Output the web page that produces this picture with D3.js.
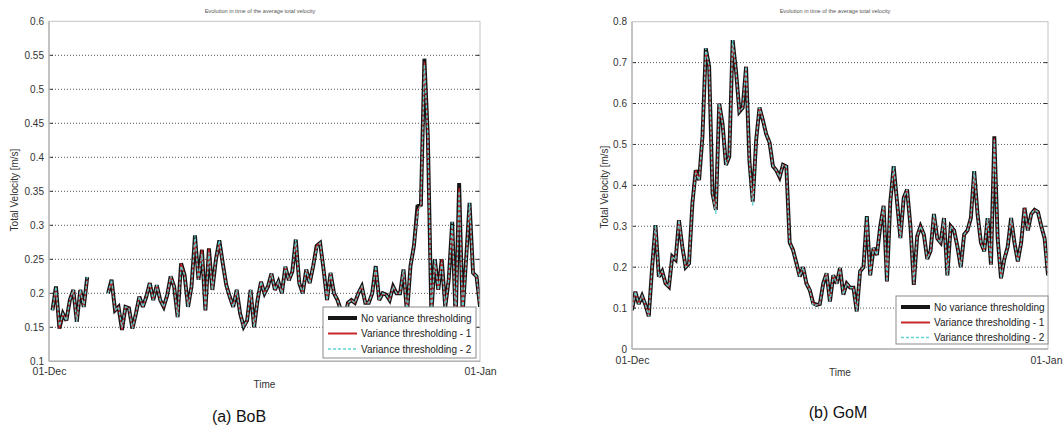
<!DOCTYPE html>
<html><head><meta charset="utf-8">
<script src="https://cdn.jsdelivr.net/npm/d3@7"></script>
<style>body{margin:0;background:#fff}svg{display:block}text{font-family:"Liberation Sans",Arial,Helvetica,sans-serif}</style>
</head><body><svg id="c" width="1063" height="434"></svg>
<script>
const startDate = new Date(2012, 11, 1);
const endDate = new Date(2013, 0, 1);
const stepHours = 6;
const seriesNames = ["No variance thresholding", "Variance thresholding - 1", "Variance thresholding - 2"];
const titleText = "Evolution in time of the average total velocity";
const yLabelText = "Total Velocity [m/s]";
const xLabelText = "Time";
const xTickLabels = ["01-Dec", "01-Jan"];
const captions = ["(a) BoB", "(b) GoM"];
const bobTicks = [0.1, 0.15, 0.2, 0.25, 0.3, 0.35, 0.4, 0.45, 0.5, 0.55, 0.6];
const gomTicks = [0, 0.1, 0.2, 0.3, 0.4, 0.5, 0.6, 0.7, 0.8];

const bobNoThresh = [null,0.175,0.21,0.148,0.17,0.16,0.19,0.205,0.158,0.205,0.18,0.224,
null,null,null,null,null,
0.2,0.22,0.175,0.18,0.146,0.18,0.178,0.148,0.17,0.195,
0.18,0.195,0.215,0.19,0.212,0.19,0.18,0.197,0.225,0.21,
0.165,0.244,0.227,0.18,0.21,0.285,0.22,0.264,0.175,0.266,
0.205,0.249,0.278,0.244,0.212,0.195,0.18,0.205,0.17,0.151,
0.16,0.205,0.15,0.19,0.217,0.2,0.21,0.229,0.205,0.217,
0.2,0.239,0.219,0.232,0.279,0.215,0.2,0.235,0.215,0.24,
0.27,0.274,0.235,0.19,0.23,0.2,0.19,0.175,0.16,0.186,
0.19,0.186,0.2,0.21,0.186,0.186,0.2,0.24,0.19,0.2,
0.198,0.19,0.21,0.2,0.2,0.235,0.17,0.24,0.27,0.328,
0.33,0.545,0.43,0.17,0.25,0.205,0.25,0.18,0.22,0.305,
0.16,0.362,0.17,0.25,0.333,0.23,0.225,0.18];

const bobThresh1 = [null,0.175,0.205,0.148,0.17,0.16,0.19,0.205,0.158,0.205,0.18,0.22,
null,null,null,null,null,
0.2,0.218,0.175,0.18,0.146,0.18,0.178,0.148,0.17,0.195,
0.18,0.195,0.215,0.19,0.212,0.19,0.18,0.197,0.225,0.21,
0.165,0.244,0.227,0.18,0.21,0.28,0.22,0.264,0.175,0.266,
0.205,0.249,0.272,0.244,0.212,0.195,0.18,0.205,0.17,0.151,
0.16,0.205,0.15,0.19,0.217,0.2,0.21,0.229,0.205,0.217,
0.2,0.239,0.219,0.232,0.275,0.215,0.2,0.235,0.215,0.24,
0.27,0.274,0.235,0.19,0.23,0.2,0.19,0.175,0.16,0.186,
0.19,0.186,0.2,0.21,0.186,0.186,0.2,0.236,0.19,0.2,
0.198,0.19,0.21,0.2,0.2,0.235,0.17,0.24,0.27,0.322,
0.33,0.54,0.43,0.17,0.25,0.205,0.25,0.18,0.22,0.3,
0.16,0.355,0.17,0.25,0.328,0.23,0.225,0.18];

const bobThresh2 = [null,0.175,0.21,0.152,0.17,0.16,0.19,0.205,0.158,0.205,0.18,0.224,
null,null,null,null,null,
0.2,0.22,0.175,0.18,0.15,0.18,0.178,0.148,0.17,0.195,
0.18,0.195,0.215,0.19,0.212,0.19,0.18,0.197,0.225,0.21,
0.165,0.24,0.227,0.18,0.21,0.285,0.22,0.258,0.175,0.26,
0.205,0.249,0.278,0.244,0.212,0.195,0.18,0.205,0.17,0.151,
0.16,0.205,0.15,0.19,0.217,0.2,0.21,0.229,0.205,0.217,
0.2,0.239,0.219,0.232,0.279,0.215,0.2,0.235,0.215,0.24,
0.266,0.274,0.235,0.19,0.23,0.2,0.19,0.175,0.16,0.186,
0.19,0.186,0.2,0.21,0.186,0.186,0.2,0.24,0.19,0.2,
0.198,0.19,0.21,0.2,0.2,0.235,0.17,0.24,0.27,0.318,
0.33,0.536,0.43,0.17,0.25,0.205,0.245,0.18,0.22,0.305,
0.16,0.35,0.17,0.245,0.333,0.23,0.225,0.18];

const gomNoThresh = [0.095,0.14,0.11,0.13,0.108,0.08,0.2,0.303,0.177,0.19,
0.16,0.152,0.226,0.218,0.315,0.25,0.2,0.209,0.356,0.437,
0.413,0.519,0.735,0.69,0.38,0.34,0.6,0.55,0.45,0.47,
0.755,0.68,0.58,0.59,0.69,0.46,0.36,0.51,0.59,0.56,
0.525,0.505,0.447,0.437,0.42,0.45,0.446,0.26,0.242,0.21,
0.177,0.2,0.16,0.144,0.112,0.108,0.11,0.16,0.185,0.116,
0.18,0.16,0.198,0.133,0.16,0.15,0.15,0.092,0.19,0.2,
0.325,0.18,0.247,0.23,0.3,0.35,0.165,0.36,0.447,0.36,
0.271,0.37,0.39,0.3,0.157,0.275,0.3,0.28,0.22,0.24,
0.33,0.27,0.26,0.32,0.18,0.3,0.29,0.25,0.2,0.28,
0.29,0.32,0.435,0.33,0.26,0.239,0.32,0.206,0.52,0.27,
0.173,0.22,0.25,0.32,0.26,0.214,0.26,0.345,0.29,0.33,
0.34,0.335,0.3,0.27,0.18];

const gomThresh1 = [0.095,0.14,0.11,0.13,0.108,0.08,0.2,0.298,0.177,0.19,
0.16,0.152,0.226,0.218,0.315,0.25,0.2,0.209,0.356,0.437,
0.413,0.519,0.728,0.69,0.38,0.34,0.6,0.55,0.45,0.47,
0.748,0.68,0.58,0.59,0.69,0.46,0.36,0.51,0.59,0.56,
0.525,0.505,0.447,0.437,0.42,0.45,0.446,0.26,0.242,0.21,
0.177,0.2,0.16,0.144,0.112,0.108,0.11,0.16,0.185,0.116,
0.18,0.16,0.198,0.133,0.16,0.15,0.15,0.092,0.19,0.2,
0.32,0.18,0.247,0.23,0.3,0.35,0.165,0.36,0.44,0.36,
0.271,0.37,0.39,0.3,0.157,0.275,0.3,0.28,0.22,0.24,
0.33,0.27,0.26,0.32,0.18,0.3,0.29,0.25,0.2,0.28,
0.29,0.32,0.43,0.33,0.26,0.239,0.32,0.206,0.515,0.27,
0.173,0.22,0.25,0.32,0.26,0.214,0.26,0.345,0.29,0.33,
0.34,0.335,0.3,0.27,0.18];

const gomThresh2 = [0.095,0.14,0.11,0.13,0.108,0.08,0.2,0.303,0.177,0.19,
0.16,0.152,0.226,0.218,0.315,0.25,0.2,0.209,0.356,0.43,
0.413,0.519,0.735,0.69,0.38,0.33,0.6,0.55,0.45,0.47,
0.755,0.68,0.58,0.59,0.69,0.46,0.35,0.51,0.59,0.56,
0.525,0.505,0.447,0.437,0.42,0.45,0.446,0.26,0.242,0.21,
0.177,0.2,0.16,0.144,0.105,0.108,0.11,0.16,0.185,0.116,
0.18,0.16,0.198,0.133,0.16,0.15,0.15,0.092,0.19,0.2,
0.325,0.18,0.247,0.23,0.3,0.35,0.165,0.36,0.447,0.36,
0.271,0.37,0.39,0.3,0.16,0.275,0.3,0.28,0.22,0.24,
0.33,0.27,0.26,0.32,0.18,0.3,0.29,0.25,0.2,0.28,
0.29,0.32,0.435,0.33,0.26,0.239,0.32,0.206,0.51,0.27,
0.173,0.22,0.25,0.32,0.26,0.214,0.26,0.34,0.29,0.33,
0.34,0.335,0.3,0.27,0.18];

const styles = [
  {color: "#161616", width: 3.9, dash: null},
  {color: "#c8282c", width: 1.3, dash: null},
  {color: "#62d2d2", width: 1.3, dash: "3,2"}
];

const panels = [
  {id: "a", left: 49, right: 480, top: 21.3, bottom: 361.3, domain: [0.1, 0.6], ticks: bobTicks,
   series: [bobNoThresh, bobThresh1, bobThresh2],
   legend: {x: 323, y: 307, w: 153, h: 51, rows: [11, 26.5, 42]},
   titleX: 260, titleY: 13, ylabX: 18, ylabY: 190, xlabY: 388, xtickY: 378,
   caption: {x: 239, y: 422}},
  {id: "b", left: 632, right: 1048, top: 21.7, bottom: 349, domain: [0, 0.8], ticks: gomTicks,
   series: [gomNoThresh, gomThresh1, gomThresh2],
   legend: {x: 896, y: 296, w: 152, h: 48, rows: [11, 26.5, 41.5]},
   titleX: 835, titleY: 13, ylabX: 608, ylabY: 187, xlabY: 376, xtickY: 367,
   caption: {x: 838, y: 418}}
];

const svg = d3.select("#c");
const fmt = d3.format("~g");

panels.forEach((p, pi) => {
  const x = d3.scaleTime().domain([startDate, endDate]).range([p.left, p.right]);
  const y = d3.scaleLinear().domain(p.domain).range([p.bottom, p.top]);
  const g = svg.append("g");

  g.append("defs").append("clipPath").attr("id", "clip" + p.id)
    .append("rect").attr("x", p.left).attr("y", p.top)
    .attr("width", p.right - p.left).attr("height", p.bottom - p.top);

  g.append("text").attr("x", p.titleX).attr("y", p.titleY).attr("text-anchor", "middle")
    .attr("font-size", 5.6).attr("fill", "#555").text(titleText);

  const inner = p.ticks.filter(t => t > p.domain[0] && t < p.domain[1]);
  g.selectAll(".grid").data(inner).enter().append("line")
    .attr("x1", p.left).attr("x2", p.right)
    .attr("y1", d => y(d)).attr("y2", d => y(d))
    .attr("stroke", "#555").attr("stroke-width", 1).attr("stroke-dasharray", "1,2");

  const yAxis = d3.axisLeft(y).tickValues(p.ticks).tickFormat(fmt).tickSize(0).tickPadding(5);
  const ya = g.append("g").attr("transform", `translate(${p.left},0)`).call(yAxis);
  ya.select(".domain").remove();
  ya.selectAll("text").attr("font-size", 10).attr("fill", "#333")
    .style("font-family", '"Liberation Sans",Arial,sans-serif');

  g.selectAll(".tl").data(inner).enter().append("line")
    .attr("x1", p.left).attr("x2", p.left + 4).attr("y1", d => y(d)).attr("y2", d => y(d))
    .attr("stroke", "#333").attr("stroke-width", 1);
  g.selectAll(".tr").data(inner).enter().append("line")
    .attr("x1", p.right - 4).attr("x2", p.right).attr("y1", d => y(d)).attr("y2", d => y(d))
    .attr("stroke", "#333").attr("stroke-width", 1);

  const xAxis = d3.axisBottom(x).tickValues([startDate, endDate])
    .tickFormat((d, i) => xTickLabels[i]).tickSize(0).tickPadding(0);
  const xa = g.append("g").attr("transform", `translate(0,${p.xtickY - 10})`).call(xAxis);
  xa.select(".domain").remove();
  xa.selectAll("text").attr("font-size", 10.5).attr("fill", "#333")
    .style("font-family", '"Liberation Sans",Arial,sans-serif');
  if (p.right + 17 > 1063) {
    xa.selectAll("text").filter((d, i) => i === 1).attr("text-anchor", "end").attr("dx", 1062 - p.right);
  }

  const line = d3.line()
    .defined(d => d.v != null)
    .x(d => x(d.t)).y(d => y(d.v));
  const plot = g.append("g").attr("clip-path", `url(#clip${p.id})`);
  p.series.forEach((vals, si) => {
    const pts = vals.map((v, i) => ({t: new Date(startDate.getTime() + i * stepHours * 3600e3), v}));
    const st = styles[si];
    plot.append("path").datum(pts).attr("d", line)
      .attr("fill", "none").attr("stroke", st.color).attr("stroke-width", st.width)
      .attr("stroke-linejoin", "miter").attr("stroke-miterlimit", 3).attr("stroke-dasharray", st.dash);
  });

  g.append("rect").attr("x", p.left).attr("y", p.top)
    .attr("width", p.right - p.left).attr("height", p.bottom - p.top)
    .attr("fill", "none").attr("stroke", "#c4c4c4").attr("stroke-width", 1);
  g.append("line").attr("x1", p.left).attr("x2", p.right).attr("y1", p.bottom).attr("y2", p.bottom)
    .attr("stroke", "#b4b4b4").attr("stroke-width", 1.6);
  g.append("line").attr("x1", p.left).attr("x2", p.left).attr("y1", p.top).attr("y2", p.bottom)
    .attr("stroke", "#b4b4b4").attr("stroke-width", 1.3);

  g.append("text").attr("transform", `translate(${p.ylabX},${p.ylabY}) rotate(-90)`)
    .attr("text-anchor", "middle").attr("font-size", 10).attr("fill", "#333").text(yLabelText);
  g.append("text").attr("x", (p.left + p.right) / 2).attr("y", p.xlabY)
    .attr("text-anchor", "middle").attr("font-size", 10).attr("fill", "#333").text(xLabelText);

  const L = p.legend;
  const lg = g.append("g");
  lg.append("rect").attr("x", L.x).attr("y", L.y).attr("width", L.w).attr("height", L.h)
    .attr("fill", "#fff").attr("stroke", "#8a8a8a").attr("stroke-width", 1);
  seriesNames.forEach((name, si) => {
    const st = styles[si];
    const yy = L.y + L.rows[si];
    lg.append("line").attr("x1", L.x + 5).attr("x2", L.x + 34).attr("y1", yy).attr("y2", yy)
      .attr("stroke", st.color).attr("stroke-width", si === 0 ? 4 : (si === 1 ? 2 : 1.5))
      .attr("stroke-dasharray", st.dash);
    lg.append("text").attr("x", L.x + 38).attr("y", yy + 3.5).attr("font-size", 10)
      .attr("fill", "#222").text(name);
  });

  g.append("text").attr("x", p.caption.x).attr("y", p.caption.y).attr("text-anchor", "middle")
    .attr("font-size", 16).attr("fill", "#111").text(captions[pi]);
});
</script></body></html>
